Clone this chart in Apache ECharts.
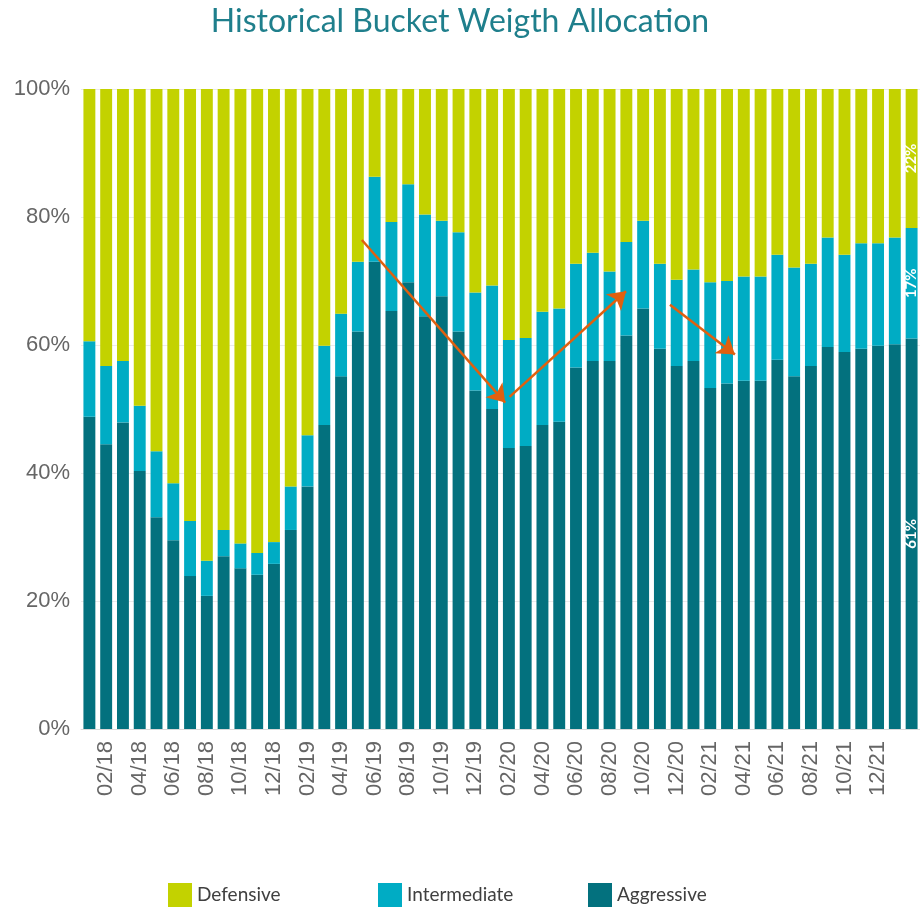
<!DOCTYPE html>
<html lang="en">
<head>
    <meta charset="UTF-8">
    <title>Historical Bucket Weigth Allocation</title>
    <script src="https://cdn.jsdelivr.net/npm/echarts@6/dist/echarts.min.js"></script>
    <style>
        html, body { margin: 0; padding: 0; background: #fff; }
    </style>
</head>
<body>
<div id="main" style="width: 920px;height: 908px;"></div>
<script type="text/javascript">
    // months 01/18 .. 02/22
    var months = [];
    for (var y = 18; y <= 22; y++) {
        for (var m = 1; m <= 12; m++) {
            if (y === 22 && m > 2) break;
            months.push((m < 10 ? '0' + m : '' + m) + '/' + y);
        }
    }

    var aggressive = [48.8, 44.5, 47.9, 40.3, 33.1, 29.5, 23.9, 20.8, 27.0, 25.1,
        24.1, 25.8, 31.1, 37.9, 47.5, 55.1, 62.1, 73.0, 65.3, 69.8,
        64.5, 67.6, 62.1, 52.9, 50.0, 43.9, 44.2, 47.5, 48.0, 56.5,
        57.5, 57.5, 61.5, 65.7, 59.4, 56.7, 57.5, 53.3, 54.0, 54.4,
        54.4, 57.7, 55.1, 56.7, 59.7, 58.9, 59.4, 59.9, 60.1, 61.0];
    var intermediate = [11.8, 12.2, 9.6, 10.2, 10.3, 8.9, 8.6, 5.5, 4.1, 3.9,
        3.4, 3.4, 6.8, 8.0, 12.4, 9.8, 10.9, 13.3, 13.9, 15.3,
        15.9, 11.8, 15.5, 15.3, 19.3, 16.9, 16.9, 17.7, 17.7, 16.2,
        16.9, 14.0, 14.6, 13.7, 13.3, 13.5, 14.3, 16.5, 16.0, 16.3,
        16.3, 16.4, 17.0, 16.0, 17.1, 15.2, 16.5, 16.0, 16.7, 17.3];
    var defensive = aggressive.map(function (a, i) {
        return +(100 - a - intermediate[i]).toFixed(1);
    });

    // trend arrows: [x0, y0, x1, y1] in (bar index, %) units
    var arrows = [
        [16.24, 76.4, 24.78, 51.0],
        [25.04, 51.9, 31.98, 68.4],
        [34.6, 66.3, 38.47, 58.5]
    ];

    var colors = {
        Defensive: '#C3D200',
        Intermediate: '#00ACC4',
        Aggressive: '#03717E'
    };

    // only the last bar carries a value label
    function withLastLabel(arr) {
        return arr.map(function (v, i) {
            if (i !== arr.length - 1) return v;
            return {
                value: v,
                label: {
                    show: true,
                    position: 'inside',
                    rotate: 90,
                    color: '#fff',
                    fontSize: 15,
                    fontWeight: 'bold',
                    fontFamily: 'Lato',
                    formatter: function (p) { return Math.round(p.value) + '%'; }
                }
            };
        });
    }

    function barSeries(name, data) {
        return {
            name: name,
            type: 'bar',
            stack: 'total',
            barCategoryGap: '29%',
            itemStyle: { color: colors[name] },
            data: withLastLabel(data)
        };
    }

    function legendAt(name, left) {
        return {
            data: [name],
            left: left,
            top: 883,
            padding: 0,
            itemWidth: 24,
            itemHeight: 24,
            itemGap: 8,
            icon: 'rect',
            textStyle: { fontFamily: 'Lato', fontSize: 19, color: '#404040' }
        };
    }

    var myChart = echarts.init(document.getElementById('main'));

    var option = {
        animation: false,
        backgroundColor: '#fff',
        title: {
            text: 'Historical Bucket Weigth Allocation',
            left: 'center',
            top: 1,
            textStyle: {
                fontFamily: 'Lato',
                fontWeight: 'normal',
                fontSize: 32,
                color: '#1F7F8C'
            }
        },
        legend: [
            legendAt('Defensive', 168),
            legendAt('Intermediate', 378),
            legendAt('Aggressive', 588)
        ],
        grid: {
            left: 81,
            right: -1,
            top: 89,
            bottom: 179,
            containLabel: false
        },
        xAxis: [{
            type: 'category',
            data: months,
            axisLine: { lineStyle: { color: '#d9d9d9' } },
            axisTick: { show: false },
            axisLabel: {
                rotate: 90,
                margin: 12,
                fontSize: 22,
                fontFamily: 'Liberation Sans',
                color: '#666666',
                interval: function (index) {
                    return index % 2 === 1 && index < 48;
                }
            }
        }, {
            type: 'value',
            min: -0.5,
            max: 49.5,
            show: false
        }],
        yAxis: {
            type: 'value',
            min: 0,
            max: 100,
            interval: 20,
            axisLine: { show: false },
            axisTick: { show: false },
            splitLine: { lineStyle: { color: '#ebebeb' } },
            axisLabel: {
                formatter: '{value}%',
                margin: 11,
                fontSize: 22,
                fontFamily: 'Liberation Sans',
                color: '#666666'
            }
        },
        series: [
            barSeries('Aggressive', aggressive),
            barSeries('Intermediate', intermediate),
            barSeries('Defensive', defensive),
            {
                name: 'trend',
                type: 'line',
                xAxisIndex: 1,
                data: [],
                markLine: {
                    silent: true,
                    animation: false,
                    symbol: ['none', 'arrow'],
                    symbolSize: 17,
                    label: { show: false },
                    lineStyle: { color: '#E0600F', width: 2.5, type: 'solid' },
                    data: arrows.map(function (a) {
                        return [{ coord: [a[0], a[1]] }, { coord: [a[2], a[3]] }];
                    })
                }
            }
        ]
    };
    myChart.setOption(option);
</script>
</body>
</html>
